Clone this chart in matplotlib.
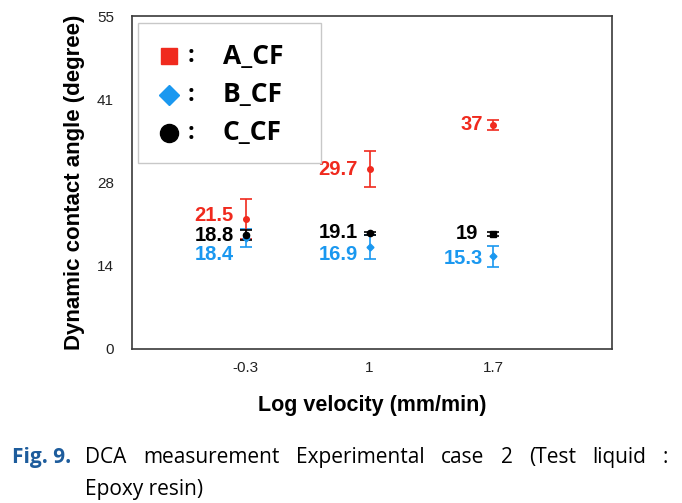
import matplotlib
matplotlib.use("Agg")
import matplotlib.pyplot as plt
from matplotlib.patches import Rectangle

# ---------------- data ----------------
categories = ["-0.3", "1", "1.7"]
series_names = ["A_CF", "B_CF", "C_CF"]
a_values = [21.5, 29.7, 37.0]
a_errors = [3.3, 3.0, 0.9]
b_values = [18.4, 16.9, 15.3]
b_errors = [1.5, 2.0, 1.7]
c_values = [18.8, 19.1, 19.0]
c_errors = [0.8, 0.3, 0.3]
y_ticks = [0, 13.75, 27.5, 41.25, 55]
y_tick_labels = ["0", "14", "28", "41", "55"]
y_label = "Dynamic contact angle (degree)"
x_label = "Log velocity (mm/min)"
caption_tag = "Fig. 9."
caption_line1 = "DCA measurement Experimental case 2 (Test liquid :"
caption_line2 = "Epoxy resin)"

# ---------------- style ----------------
RED = "#f02a1e"
BLUE = "#1a98f0"
BLACK = "#000000"
styles = {
    "A_CF": dict(color=RED, marker="o", ms=4, legend_marker="s", legend_ms=12,
                 label_dx=[-12, -12, -10], label_dy=[3, 0, 0]),
    "B_CF": dict(color=BLUE, marker="D", ms=3.5, legend_marker="D", legend_ms=10,
                 label_dx=[-12, -12, -10], label_dy=[-17, -8, -2]),
    "C_CF": dict(color=BLACK, marker="o", ms=4.5, legend_marker="o", legend_ms=13,
                 label_dx=[-12, -12, -15], label_dy=[0, 1, 0]),
}
c_point_markers = ["o", "o", "s"]

W, H = 682, 503
PX = 0.72  # points per pixel at 100 dpi
fig = plt.figure(figsize=(W / 100, H / 100), dpi=100)
fig.patch.set_facecolor("white")
ax = fig.add_axes([132 / W, 1 - 349 / H, 480 / W, 333 / H])

xpos = [1, 2, 3]
ax.set_xlim(0.08, 3.96)
ax.set_ylim(0, 55)

all_vals = {"A_CF": (a_values, a_errors), "B_CF": (b_values, b_errors),
            "C_CF": (c_values, c_errors)}

draw_order = ["B_CF", "A_CF", "C_CF"]
for name in draw_order:
    vals, errs = all_vals[name]
    st = styles[name]
    for i, (x, v, e) in enumerate(zip(xpos, vals, errs)):
        mk = st["marker"]
        if name == "C_CF":
            mk = c_point_markers[i]
        ax.errorbar(x, v, yerr=e, fmt=mk, color=st["color"], ms=st["ms"],
                    elinewidth=1.2, capsize=4, capthick=1.2, zorder=3)
        ax.annotate(f"{v:g}", xy=(x, v),
                    xytext=(st["label_dx"][i] * PX, st["label_dy"][i] * PX),
                    textcoords="offset points", ha="right", va="center",
                    fontsize=14.5, fontweight="bold", color=st["color"],
                    family="Liberation Sans", zorder=4)

# axes styling
for sp in ax.spines.values():
    sp.set_color("#3a3a3a")
    sp.set_linewidth(1.2)
ax.set_xticks(xpos)
ax.set_xticklabels(categories)
ax.set_yticks(y_ticks)
ax.set_yticklabels(y_tick_labels)
ax.tick_params(axis="both", length=0, labelsize=11, colors="#222222")
ax.tick_params(axis="y", pad=13)
ax.tick_params(axis="x", pad=9)
for lab in ax.get_xticklabels() + ax.get_yticklabels():
    lab.set_family("Liberation Sans")

fig.text(75 / W, 1 - 182 / H, y_label, rotation=90, ha="center", va="center",
         fontsize=16, fontweight="bold", family="Liberation Sans")
fig.text(372 / W, 1 - 405 / H, x_label, ha="center", va="center",
         fontsize=15.5, fontweight="bold", family="Liberation Sans")

# legend (manual)
leg_x0, leg_x1 = (138 - 132) / 480, (321 - 132) / 480
leg_y0, leg_y1 = (349 - 163) / 333, (349 - 23) / 333
ax.add_patch(Rectangle((leg_x0, leg_y0), leg_x1 - leg_x0, leg_y1 - leg_y0,
                       transform=ax.transAxes, facecolor="white",
                       edgecolor="#c8c8c8", linewidth=1, zorder=5))
row_y = [(349 - 56) / 333, (349 - 95) / 333, (349 - 133) / 333]
for name, ry in zip(series_names, row_y):
    st = styles[name]
    ax.plot([(169 - 132) / 480], [ry], marker=st["legend_marker"], ms=st["legend_ms"],
            color=st["color"], mec=st["color"], transform=ax.transAxes,
            zorder=6, clip_on=False)
    ax.text((191 - 132) / 480, ry, ":", transform=ax.transAxes, ha="center",
            va="center", fontsize=17, fontweight="bold", family="Open Sans", zorder=6)
    ax.text((223 - 132) / 480, ry, name, transform=ax.transAxes, ha="left",
            va="center", fontsize=19, fontweight="bold", family="Open Sans", zorder=6)

# caption
cap_y1 = 1 - 463 / H
cap_y2 = 1 - 495 / H
fig.text(12 / W, cap_y1, caption_tag, ha="left", va="baseline", fontsize=15,
         fontweight="bold", color="#1d5c9c", family="Open Sans")
fig.canvas.draw()
renderer = fig.canvas.get_renderer()
words = caption_line1.split()
word_texts = [fig.text(0, cap_y1, w, ha="left", va="baseline", fontsize=15,
                       family="Open Sans") for w in words]
widths = [t.get_window_extent(renderer).width for t in word_texts]
x_start, x_end = 85, 668
gap = (x_end - x_start - sum(widths)) / (len(words) - 1)
xc = x_start
for t, w in zip(word_texts, widths):
    t.set_x(xc / W)
    xc += w + gap
fig.text(85 / W, cap_y2, caption_line2, ha="left", va="baseline", fontsize=15,
         family="Open Sans")

fig.savefig("out.png", dpi=100, facecolor="white")
